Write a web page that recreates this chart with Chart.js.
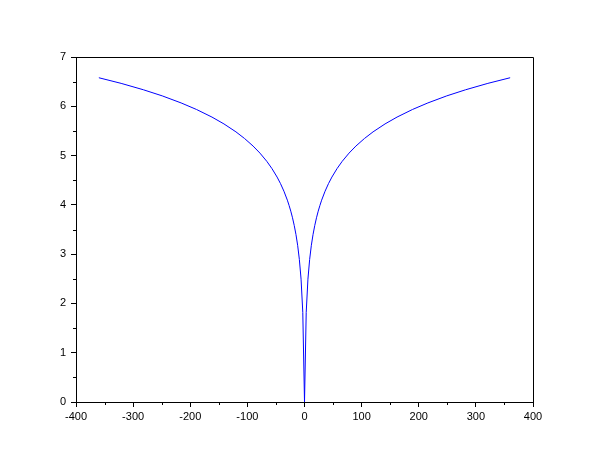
<!DOCTYPE html>
<html>
<head>
<meta charset="utf-8">
<script src="https://cdn.jsdelivr.net/npm/chart.js@4"></script>
<style>
  body { margin: 0; background: #fff; }
  canvas { display: block; }
</style>
</head>
<body>
<canvas id="plot" width="610" height="460"></canvas>
<script>
// Values
const xValues = [-360, -321, -282, -249, -216, -189, -162, -141, -120, -105, -90, -78, -66, -57, -48, -42, -36, -30, -27, -24, -21, -18, -15, -12, -9, -6, -3,
  0, 3, 6, 9, 12, 15, 18, 21, 24, 27, 30, 36, 42, 48, 57, 66, 78, 90, 105, 120, 141, 162, 189, 216, 249, 282, 321, 360];
const yValues = [6.579, 6.465, 6.335, 6.211, 6.068, 5.935, 5.781, 5.642, 5.481, 5.347, 5.193, 5.050, 4.883, 4.736, 4.564, 4.431, 4.277, 4.095, 3.989, 3.872, 3.738, 3.584, 3.402, 3.180, 2.893, 2.492, 1.818,
  0, 1.818, 2.492, 2.893, 3.180, 3.402, 3.584, 3.738, 3.872, 3.989, 4.095, 4.277, 4.431, 4.564, 4.736, 4.883, 5.050, 5.193, 5.347, 5.481, 5.642, 5.781, 5.935, 6.068, 6.211, 6.335, 6.465, 6.579];
const xTicks = [-400, -300, -200, -100, 0, 100, 200, 300, 400];
const yTicks = [0, 1, 2, 3, 4, 5, 6, 7];

const points = xValues.map((x, i) => ({ x: x, y: yValues[i] }));

// box around the plot + minor ticks
const framePlugin = {
  id: "frame",
  afterDraw(chart) {
    const ctx = chart.ctx;
    const a = chart.chartArea;
    const xs = chart.scales.x;
    const ys = chart.scales.y;
    ctx.save();
    ctx.strokeStyle = "#000";
    ctx.lineWidth = 1;
    ctx.beginPath();
    ctx.moveTo(Math.round(a.left) + 0.5, Math.round(a.top) + 0.5);
    ctx.lineTo(Math.round(a.right) + 0.5, Math.round(a.top) + 0.5);
    ctx.lineTo(Math.round(a.right) + 0.5, Math.round(a.bottom) + 0.5);
    ctx.stroke();
    ctx.beginPath();
    for (let i = 0; i < xTicks.length - 1; i++) {
      const px = Math.round(xs.getPixelForValue((xTicks[i] + xTicks[i + 1]) / 2)) + 0.5;
      ctx.moveTo(px, Math.round(a.bottom));
      ctx.lineTo(px, Math.round(a.bottom) + 3);
    }
    for (let i = 0; i < yTicks.length - 1; i++) {
      const py = Math.round(ys.getPixelForValue((yTicks[i] + yTicks[i + 1]) / 2)) + 0.5;
      ctx.moveTo(Math.round(a.left), py);
      ctx.lineTo(Math.round(a.left) - 3, py);
    }
    ctx.stroke();
    ctx.restore();
  }
};

new Chart(document.getElementById("plot"), {
  type: "scatter",
  data: {
    datasets: [{
      data: points,
      showLine: true,
      borderColor: "#0000ff",
      borderWidth: 1,
      pointRadius: 0,
      tension: 0
    }]
  },
  options: {
    responsive: false,
    animation: false,
    layout: { padding: { top: 57, right: 77, left: 0, bottom: 0 } },
    plugins: { legend: { display: false }, tooltip: { enabled: false } },
    scales: {
      x: {
        type: "linear",
        min: -400,
        max: 400,
        afterFit: (s) => { s.height = 58; },
        afterBuildTicks: (s) => { s.ticks = xTicks.map(v => ({ value: v })); },
        ticks: { color: "#000", font: { family: "Liberation Sans", size: 11 }, padding: 3, maxRotation: 0 },
        grid: { drawOnChartArea: false, drawTicks: true, tickLength: 5, tickColor: "#000" },
        border: { display: true, color: "#000", width: 1 }
      },
      y: {
        min: 0,
        max: 7,
        afterFit: (s) => { s.width = 76; },
        afterBuildTicks: (s) => { s.ticks = yTicks.map(v => ({ value: v })); },
        ticks: { color: "#000", font: { family: "Liberation Sans", size: 11 }, padding: 5 },
        grid: { drawOnChartArea: false, drawTicks: true, tickLength: 5, tickColor: "#000" },
        border: { display: true, color: "#000", width: 1 }
      }
    }
  },
  plugins: [framePlugin]
});
</script>
</body>
</html>
